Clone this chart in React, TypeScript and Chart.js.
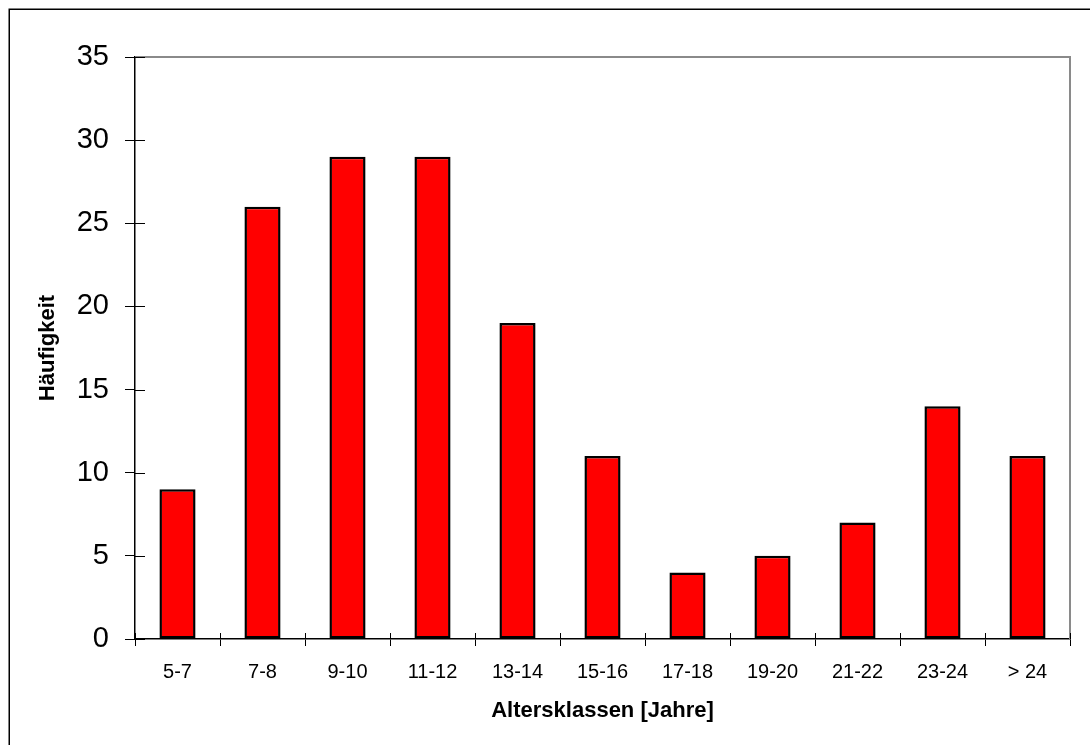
import React, { useEffect, useRef } from "react";
import { Chart, registerables } from "chart.js";

Chart.register(...registerables);

const categories = ["5-7", "7-8", "9-10", "11-12", "13-14", "15-16", "17-18", "19-20", "21-22", "23-24", "> 24"];
const frequencies = [9, 26, 29, 29, 19, 11, 4, 5, 7, 14, 11];
const yMin = 0;
const yMax = 35;
const yStep = 5;
const xTitle = "Altersklassen [Jahre]";
const yTitle = "Häufigkeit";

const FONT = "'Liberation Sans', Arial, Helvetica, sans-serif";

const framePlugin = {
  id: "frame",
  afterDraw(chart: any) {
    const { ctx, chartArea: a, scales } = chart;
    ctx.save();
    // outer frame (left and top edges visible)
    ctx.strokeStyle = "#000";
    ctx.lineWidth = 1.5;
    ctx.beginPath();
    ctx.moveTo(9.25, chart.height + 5);
    ctx.lineTo(9.25, 9.25);
    ctx.lineTo(chart.width + 5, 9.25);
    ctx.stroke();
    // plot area border top / right in gray
    ctx.strokeStyle = "#8a8a8a";
    ctx.lineWidth = 2;
    ctx.beginPath();
    ctx.moveTo(a.left, a.top);
    ctx.lineTo(a.right, a.top);
    ctx.lineTo(a.right, a.bottom);
    ctx.stroke();
    // inner tick marks
    ctx.strokeStyle = "#000";
    ctx.lineWidth = 1;
    const y = scales.y;
    y.ticks.forEach((_t: any, i: number) => {
      const py = Math.round(y.getPixelForTick(i)) + 0.5;
      ctx.beginPath();
      ctx.moveTo(a.left, py);
      ctx.lineTo(a.left + 10, py);
      ctx.stroke();
    });
    const x = scales.x;
    for (let i = 0; i <= categories.length; i++) {
      const px = Math.round(x.getPixelForValue(i - 0.5)) + 0.5;
      ctx.beginPath();
      ctx.moveTo(px, a.bottom);
      ctx.lineTo(px, a.bottom - 6);
      ctx.stroke();
    }
    ctx.restore();
  },
};

export default function App() {
  const canvasRef = useRef<HTMLCanvasElement | null>(null);

  useEffect(() => {
    const canvas = canvasRef.current;
    if (!canvas) return;
    const chart = new Chart(canvas, {
      type: "bar",
      data: {
        labels: categories,
        datasets: [
          {
            data: frequencies,
            backgroundColor: "#FF0000",
            borderColor: "#000000",
            borderWidth: 2.5,
            borderSkipped: false,
            barPercentage: 0.85,
            categoryPercentage: 0.5,
          },
        ],
      },
      options: {
        responsive: false,
        animation: false,
        devicePixelRatio: 1,
        layout: { padding: { top: 57, right: 20, left: 0, bottom: 0 } },
        plugins: {
          legend: { display: false },
          tooltip: { enabled: false },
        },
        scales: {
          x: {
            offset: true,
            grid: {
              display: true,
              drawOnChartArea: false,
              drawTicks: true,
              tickLength: 7,
              color: "#000",
              lineWidth: 1,
              offset: true,
            },
            border: { display: true, color: "#000", width: 1.5 },
            ticks: {
              font: { family: FONT, size: 20 },
              color: "#000",
              padding: 14,
              maxRotation: 0,
              autoSkip: false,
            },
            title: {
              display: true,
              text: xTitle,
              font: { family: FONT, size: 22, weight: "bold" },
              color: "#000",
              padding: { top: 0, bottom: 21 },
            },
            afterFit: (s: any) => {
              s.height = 106;
            },
          },
          y: {
            min: yMin,
            max: yMax,
            grid: {
              display: true,
              drawOnChartArea: false,
              drawTicks: true,
              tickLength: 10,
              color: "#000",
              lineWidth: 1,
            },
            border: { display: true, color: "#000", width: 1.5 },
            ticks: {
              stepSize: yStep,
              font: { family: FONT, size: 29 },
              color: "#000",
              padding: 16,
            },
            title: {
              display: true,
              text: yTitle,
              font: { family: FONT, size: 22, weight: "bold" },
              color: "#000",
              padding: { top: 35, bottom: 0 },
            },
            afterFit: (s: any) => {
              s.width = 135;
            },
          },
        },
      },
      plugins: [framePlugin],
    } as any);
    return () => chart.destroy();
  }, []);

  return (
    <div style={{ position: "fixed", left: 0, top: 0, width: 1090, height: 745, background: "#fff" }}>
      <canvas ref={canvasRef} width={1090} height={745} style={{ display: "block" }} />
    </div>
  );
}
